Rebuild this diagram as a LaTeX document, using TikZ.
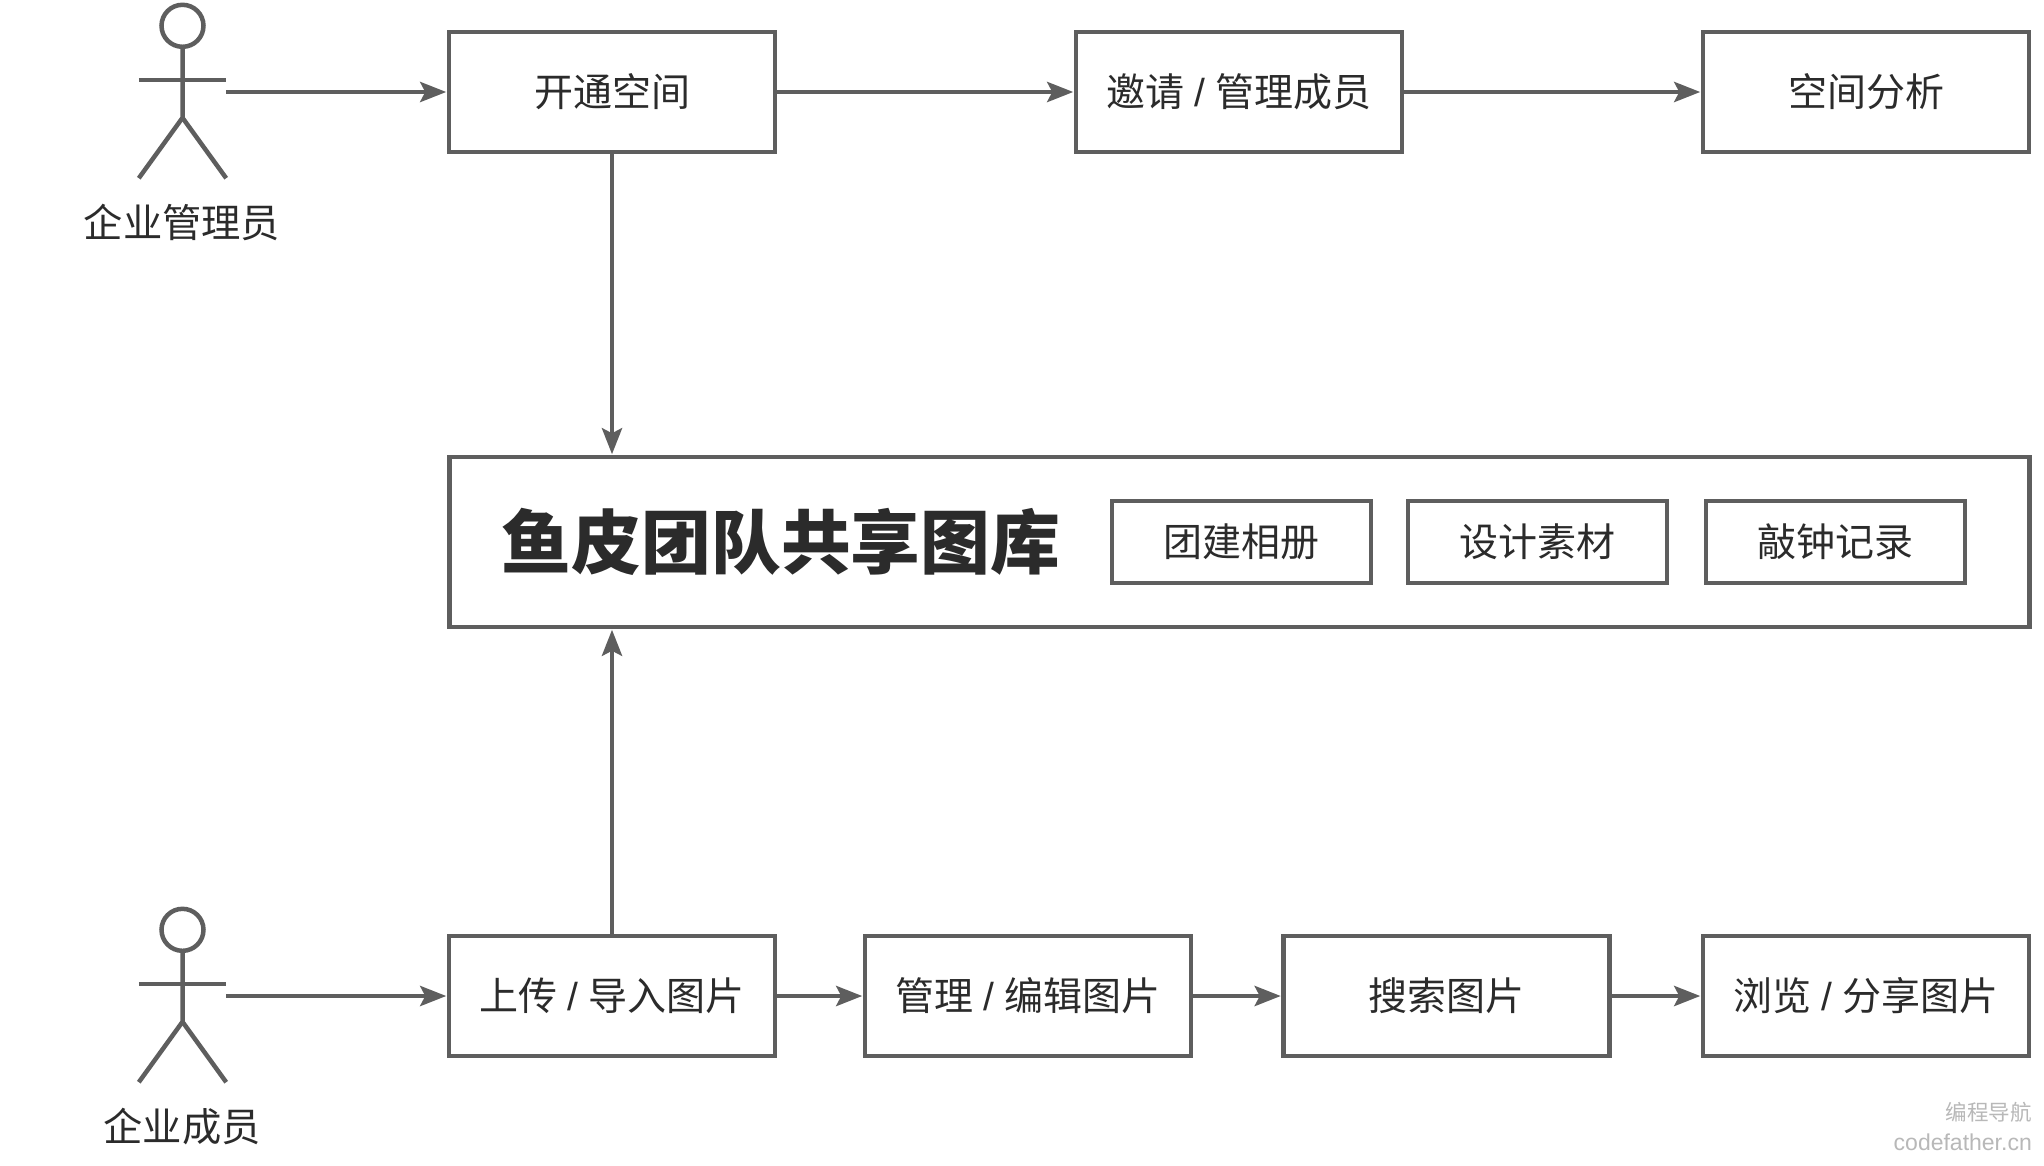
\documentclass[tikz,border=0pt]{standalone}
\usepackage{fontspec}
\setmainfont{Noto Sans CJK SC}
\newfontfamily\latinwm{Liberation Sans}
\usetikzlibrary{arrows.meta}
\definecolor{linegray}{HTML}{5E5E5E}
\definecolor{textgray}{HTML}{2B2B2B}
\definecolor{wmgray}{HTML}{B8B8B8}
\newcommand{\sep}{\hspace{1.5pt}{\latinwm /}\hspace{1.5pt}}
\tikzset{
  box/.style={draw=linegray,line width=4.5pt,fill=white,text=textgray,inner sep=0pt,minimum width=326pt,minimum height=120pt,text height=34pt,text depth=5pt,font=\fontsize{39}{39}\selectfont},
  tagbox/.style={box,line width=4pt,minimum width=259pt,minimum height=82pt},
  mainbox/.style={box,minimum width=1580pt,minimum height=170pt},
  actorbox/.style={inner sep=0pt,minimum width=87pt,minimum height=172pt},
  actorline/.style={draw=linegray,line width=4.5pt},
  conn/.style={draw=linegray,line width=4.5pt,-{Stealth[length=26pt,width=20pt,inset=5pt]},shorten >=0.5pt},
  lbl/.style={text=textgray,inner sep=0pt,font=\fontsize{39.3}{39}\selectfont},
  wm/.style={text=wmgray,inner sep=0pt,anchor=east}
}
\newcommand{\stickman}[1]{%
  \draw[actorline] (#1.north) ++(0,20) circle[radius=21pt];
  \draw[actorline] (#1.north) ++(0,41) -- ++(0,71) -- (#1.south west);
  \draw[actorline] (#1.north) ++(0,112) -- (#1.south east);
  \draw[actorline] (#1.west) ++(0,-12) -- ++(87,0);
}
\begin{document}
\begin{tikzpicture}[x=1pt,y=-1pt]
\useasboundingbox (0,0) rectangle (2044,1165);
\fill[white] (0,0) rectangle (2044,1165);
% actors
\node[actorbox] (admin) at (182.5,92) {};
\node[actorbox] (member) at (182.5,996) {};
\stickman{admin}
\stickman{member}
\node[lbl] (adminlbl) at (182,222) {企业管理员};
\node[lbl] (memberlbl) at (182,1127) {企业成员};
% top row
\node[box] (open) at (612,92) {开通空间};
\node[box] (invite) at (1239,92) {邀请 \sep{} 管理成员};
\node[box] (analysis) at (1866,92) {空间分析};
% main
\node[mainbox] (main) at (1239.5,542) {};
\node[text=textgray,inner sep=0pt,font=\fontsize{69.8}{70}\selectfont\bfseries] (title) at (781,542) {鱼皮团队共享图库};
\node[tagbox] (t1) at (1241.5,542) {团建相册};
\node[tagbox] (t2) at (1537,542) {设计素材};
\node[tagbox] (t3) at (1835.5,542) {敲钟记录};
% bottom row
\node[box] (upload) at (612,996) {上传 \sep{} 导入图片};
\node[box] (manage) at (1028,996) {管理 \sep{} 编辑图片};
\node[box] (search) at (1446.5,996) {搜索图片};
\node[box] (browse) at (1866,996) {浏览 \sep{} 分享图片};
% connectors
\draw[conn] (admin.east) -- (open.west);
\draw[conn] (open) -- (invite);
\draw[conn] (invite) -- (analysis);
\draw[conn] (open.south) -- (open.south |- main.north);
\draw[conn] (upload.north) -- (upload.north |- main.south);
\draw[conn] (member.east) -- (upload.west);
\draw[conn] (upload) -- (manage);
\draw[conn] (manage) -- (search);
\draw[conn] (search) -- (browse);
% watermark
\node[wm,font=\fontsize{21.5}{22}\selectfont] (wm1) at (2032,1112) {编程导航};
\node[wm,font=\latinwm\fontsize{23}{24}\selectfont] (wm2) at (2032,1142) {codefather.cn};
\end{tikzpicture}
\end{document}
